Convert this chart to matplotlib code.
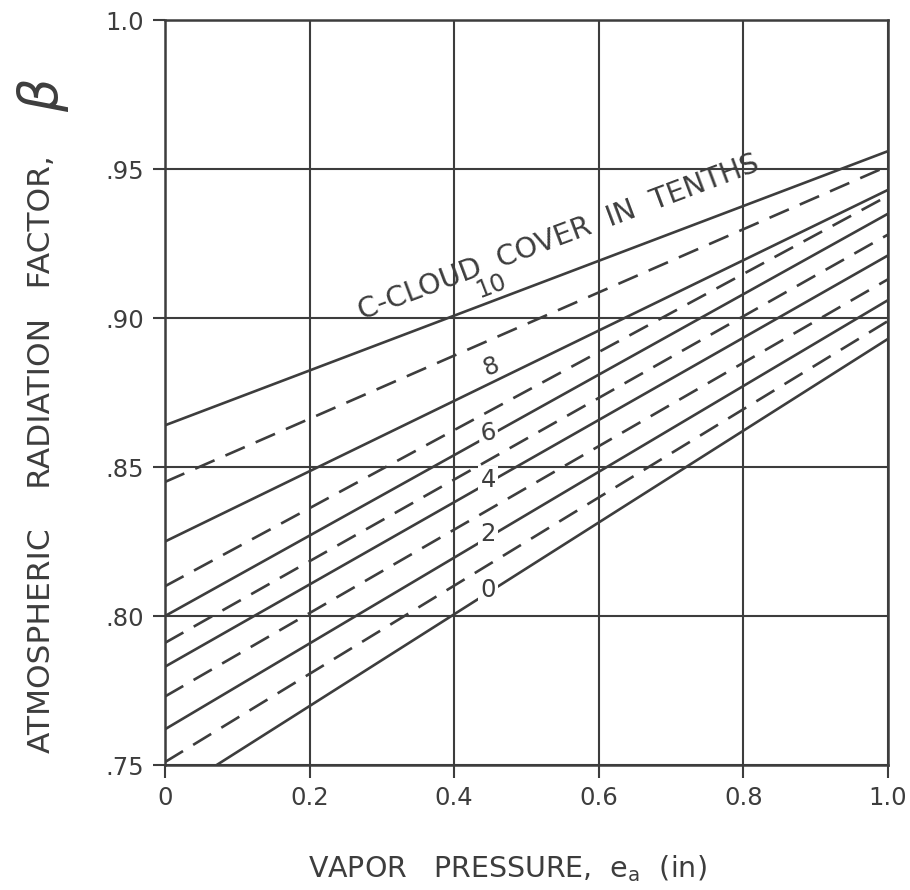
import numpy as np
import matplotlib
matplotlib.use("Agg")
import matplotlib.pyplot as plt

# cloud cover in tenths and the factor read at e_a = 0 and e_a = 1.0
cover = [0, 1, 2, 3, 4, 5, 6, 7, 8, 9, 10]
beta_at_0 = [0.739, 0.751, 0.762, 0.773, 0.783, 0.791, 0.800, 0.810, 0.825, 0.845, 0.864]
beta_at_1 = [0.893, 0.899, 0.906, 0.913, 0.921, 0.928, 0.935, 0.941, 0.943, 0.951, 0.956]

x_ticks = [0, 0.2, 0.4, 0.6, 0.8, 1.0]
x_labels = ["0", "0.2", "0.4", "0.6", "0.8", "1.0"]
y_ticks = [0.75, 0.80, 0.85, 0.90, 0.95, 1.0]
y_labels = [".75", ".80", ".85", ".90", ".95", "1.0"]

# labelled curves
label_cover = [0, 2, 4, 6, 8, 10]
label_text = ["0", "2", "4", "6", "8", "10"]

ink = "#3d3d3d"
plt.rcParams['font.family'] = ['DejaVu Sans']

fig = plt.figure(figsize=(9.1, 8.9), dpi=100)
ax = fig.add_axes([0.1813, 0.1404, 0.9758 - 0.1813, 0.9775 - 0.1404])

e = np.array([0.0, 1.0])
for c, b0, b1 in zip(cover, beta_at_0, beta_at_1):
    if c % 2 == 0:
        ax.plot(e, [b0, b1], color=ink, lw=1.9, solid_capstyle="butt", zorder=2)
    else:
        ax.plot(e, [b0, b1], color=ink, lw=1.9, dashes=(8, 4.5), zorder=2)

# curve numbers, sitting in a gap of their line
e_lab = 0.447
for c, txt in zip(label_cover, label_text):
    b = beta_at_0[c] + e_lab * (beta_at_1[c] - beta_at_0[c])
    if c >= 8:
        ax.text(e_lab + 0.004, b + 0.0058, txt, fontsize=17.5, color=ink, ha="center",
                va="center", rotation=21, zorder=4)
    else:
        ax.text(e_lab, b + 0.001, txt, fontsize=17.5, color=ink, ha="center",
                va="center", rotation=8 if c == 6 else 0, zorder=4,
                bbox=dict(facecolor="white", edgecolor="none", pad=1.5))

ax.text(0.545, 0.927, "C-CLOUD  COVER  IN  TENTHS", fontsize=20.5, color=ink,
        ha="center", va="center", rotation=20.6, zorder=4)

ax.set_xlim(0, 1.0)
ax.set_ylim(0.75, 1.0)
ax.set_xticks(x_ticks)
ax.set_xticklabels(x_labels)
ax.set_yticks(y_ticks)
ax.set_yticklabels(y_labels)
ax.grid(True, color=ink, lw=1.5)
ax.set_axisbelow(True)
ax.tick_params(direction="out", length=9, width=1.5, color=ink, labelcolor=ink,
               labelsize=17.5, pad=6)
for s in ax.spines.values():
    s.set_color(ink)
    s.set_linewidth(1.8)

fig.text(0.558, 1 - 869 / 890, r"VAPOR   PRESSURE,  e$_{\mathrm{a}}$  (in)",
         fontsize=20.5, color=ink, ha="center", va="center")
fig.text(0.046, 1 - 454 / 890, "ATMOSPHERIC    RADIATION   FACTOR,",
         fontsize=22.5, color=ink, ha="center", va="center", rotation=90)
fig.text(0.047, 1 - 95 / 890, r"$\beta$", fontsize=38, color=ink,
         ha="center", va="center", rotation=90)

fig.savefig("out.png", dpi=100)
